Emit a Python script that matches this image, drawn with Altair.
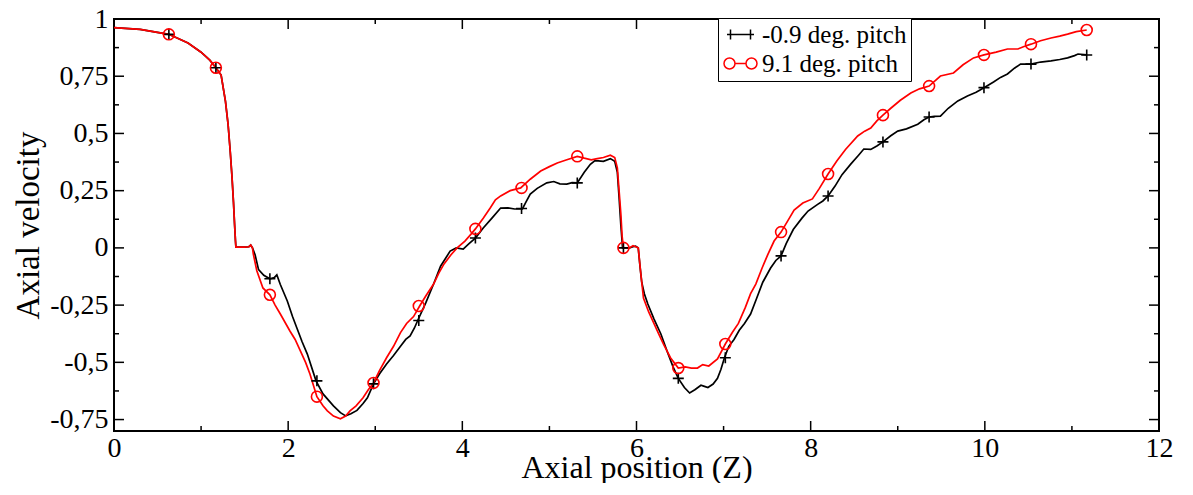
import altair as alt
import pandas as pd

# ---------------- data ----------------
series_names = ["-0.9 deg. pitch", "9.1 deg. pitch"]

# common part of both curves (identical up to x ~ 1.6)
prefix_x = [0, 0.3, 0.63, 0.85, 1.0, 1.1, 1.17, 1.23, 1.28, 1.31, 1.335, 1.355, 1.372,
            1.385, 1.395, 1.40, 1.50, 1.55, 1.57, 1.59]
prefix_y = [0.962, 0.955, 0.933, 0.895, 0.855, 0.82, 0.787, 0.755, 0.64, 0.54, 0.42, 0.31,
            0.2, 0.1, 0.03, 0.003, 0.003, 0.005, 0.012, 0.0]

black_x = [1.62, 1.66, 1.72, 1.79, 1.84, 1.87, 1.91, 1.99, 2.05, 2.10, 2.16, 2.22, 2.32, 2.40,
           2.52, 2.60, 2.66, 2.72, 2.79, 2.86, 2.91, 2.98, 3.05, 3.13, 3.21, 3.29, 3.35, 3.40,
           3.45, 3.49, 3.58, 3.67, 3.75, 3.86, 3.93, 4.01, 4.08, 4.15, 4.24, 4.34, 4.44, 4.52,
           4.60, 4.69, 4.73, 4.78, 4.86, 4.97, 5.05, 5.12, 5.20, 5.26, 5.32, 5.40, 5.47, 5.52,
           5.56, 5.62, 5.70, 5.75, 5.78, 5.80, 5.82, 5.84, 5.85, 5.92, 5.96, 5.99, 6.02, 6.04,
           6.06, 6.09, 6.13, 6.20, 6.28, 6.36, 6.42, 6.48, 6.55, 6.61, 6.67, 6.74, 6.78, 6.82,
           6.88, 6.93, 6.97, 7.01, 7.06, 7.12, 7.18, 7.24, 7.31, 7.38, 7.45, 7.54, 7.60, 7.66,
           7.72, 7.80, 7.90, 7.97, 8.08, 8.14, 8.20, 8.28, 8.36, 8.46, 8.55, 8.61, 8.69, 8.76,
           8.83, 8.92, 9.00, 9.10, 9.23, 9.30, 9.36, 9.42, 9.49, 9.58, 9.69, 9.80, 9.90, 9.99,
           10.10, 10.18, 10.26, 10.34, 10.41, 10.53, 10.64, 10.76, 10.86, 10.95, 11.03, 11.07,
           11.17]
black_y = [-0.03, -0.095, -0.12, -0.135, -0.13, -0.118, -0.16, -0.232, -0.30, -0.35, -0.41,
           -0.464, -0.581, -0.638, -0.69, -0.72, -0.734, -0.725, -0.71, -0.68, -0.655, -0.594,
           -0.55, -0.507, -0.47, -0.43, -0.40, -0.385, -0.35, -0.315, -0.24, -0.158, -0.08,
           -0.014, 0.0, -0.005, 0.02, 0.043, 0.087, 0.13, 0.174, 0.175, 0.17, 0.17, 0.2, 0.235,
           0.26, 0.284, 0.29, 0.28, 0.279, 0.285, 0.284, 0.33, 0.365, 0.38, 0.38, 0.378, 0.39,
           0.378, 0.33, 0.22, 0.1, 0.0, 0.0, 0.0, 0.005, 0.008, 0.0, -0.08, -0.15, -0.2, -0.245,
           -0.31, -0.376, -0.46, -0.52, -0.57, -0.61, -0.634, -0.62, -0.60, -0.605, -0.61,
           -0.595, -0.57, -0.53, -0.48, -0.43, -0.40, -0.36, -0.33, -0.289, -0.22, -0.15,
           -0.088, -0.055, -0.035, 0.02, 0.08, 0.13, 0.161, 0.19, 0.205, 0.227, 0.27, 0.32,
           0.366, 0.405, 0.432, 0.43, 0.445, 0.463, 0.49, 0.51, 0.52, 0.54, 0.56, 0.572, 0.575,
           0.576, 0.61, 0.642, 0.664, 0.68, 0.70, 0.725, 0.745, 0.76, 0.785, 0.803, 0.803,
           0.812, 0.817, 0.823, 0.83, 0.84, 0.847, 0.843]

red_x = [1.60, 1.64, 1.71, 1.79, 1.85, 1.91, 2.02, 2.08, 2.14, 2.20, 2.25, 2.33, 2.40, 2.45,
         2.52, 2.60, 2.66, 2.71, 2.78, 2.86, 2.92, 2.98, 3.05, 3.13, 3.21, 3.29, 3.36, 3.44,
         3.51, 3.58, 3.67, 3.73, 3.79, 3.87, 3.94, 4.03, 4.10, 4.15, 4.24, 4.32, 4.38, 4.44,
         4.55, 4.67, 4.78, 4.90, 5.00, 5.09, 5.20, 5.32, 5.40, 5.48, 5.55, 5.62, 5.70, 5.75,
         5.78, 5.80, 5.82, 5.835, 5.85, 5.92, 5.96, 5.99, 6.02, 6.05, 6.08, 6.14, 6.20, 6.26,
         6.31, 6.39, 6.48, 6.56, 6.63, 6.70, 6.76, 6.83, 6.93, 7.02, 7.10, 7.17, 7.25, 7.31,
         7.37, 7.44, 7.51, 7.58, 7.66, 7.74, 7.81, 7.91, 8.02, 8.10, 8.20, 8.30, 8.40, 8.54,
         8.62, 8.69, 8.76, 8.83, 8.92, 9.03, 9.15, 9.25, 9.36, 9.49, 9.64, 9.75, 9.87, 9.99,
         10.13, 10.26, 10.38, 10.45, 10.53, 10.64, 10.76, 10.86, 10.95, 11.05, 11.17]
red_y = [-0.027, -0.10, -0.175, -0.205, -0.25, -0.289, -0.363, -0.40, -0.45, -0.50, -0.551,
         -0.65, -0.69, -0.712, -0.735, -0.747, -0.735, -0.712, -0.69, -0.655, -0.62, -0.59,
         -0.535, -0.48, -0.43, -0.37, -0.33, -0.30, -0.254, -0.21, -0.158, -0.11, -0.07, -0.03,
         0.0, 0.03, 0.06, 0.083, 0.13, 0.174, 0.21, 0.227, 0.25, 0.262, 0.30, 0.336, 0.355,
         0.371, 0.385, 0.40, 0.392, 0.385, 0.39, 0.395, 0.405, 0.395, 0.35, 0.25, 0.15, 0.05,
         0.0, 0.0, 0.01, 0.005, 0.0, -0.114, -0.219, -0.28, -0.33, -0.38, -0.42, -0.48, -0.525,
         -0.52, -0.525, -0.525, -0.51, -0.516, -0.485, -0.42, -0.37, -0.33, -0.26, -0.20,
         -0.158, -0.09, -0.027, 0.03, 0.069, 0.12, 0.165, 0.196, 0.214, 0.26, 0.323, 0.38,
         0.43, 0.489, 0.51, 0.524, 0.555, 0.58, 0.61, 0.645, 0.677, 0.695, 0.707, 0.751, 0.764,
         0.80, 0.83, 0.843, 0.855, 0.869, 0.869, 0.88, 0.89, 0.905, 0.917, 0.925, 0.934, 0.945,
         0.952]

marker_x = [0.63, 1.17, 1.79, 2.33, 2.98, 3.50, 4.15, 4.68, 5.32, 5.85, 6.48, 7.02, 7.66,
            8.20, 8.83, 9.36, 9.99, 10.53, 11.17]
marker_black = [0.933, 0.787, -0.135, -0.581, -0.594, -0.317, 0.043, 0.172, 0.284, 0.0,
                -0.57, -0.48, -0.035, 0.227, 0.463, 0.572, 0.70, 0.803, 0.843]
marker_red = [0.933, 0.787, -0.205, -0.65, -0.59, -0.254, 0.083, 0.262, 0.40, 0.0, -0.525,
              -0.42, 0.069, 0.323, 0.58, 0.707, 0.843, 0.89, 0.952]

x_major = [0, 2, 4, 6, 8, 10, 12]
x_minor = [1, 3, 5, 7, 9, 11]
y_major = [-0.75, -0.5, -0.25, 0, 0.25, 0.5, 0.75, 1]
y_minor = [-0.625, -0.375, -0.125, 0.125, 0.375, 0.625, 0.875]

# ---------------- tables ----------------
black_df = pd.DataFrame({"x": prefix_x + black_x, "y": prefix_y + black_y})
red_df = pd.DataFrame({"x": prefix_x + red_x, "y": prefix_y + red_y})
mk_black_df = pd.DataFrame({"x": marker_x, "y": marker_black})
mk_red_df = pd.DataFrame({"x": marker_x, "y": marker_red})
legend_df = pd.DataFrame({"series": series_names})

W, H = 1045, 412
FONT = "Liberation Serif"

x_scale = alt.Scale(domain=[0, 12], nice=False, zero=False)
y_scale = alt.Scale(domain=[-0.8, 1], nice=False, zero=False)
x_axis = alt.Axis(values=x_major, format="d", ticks=False, domain=False, grid=False,
                  labelFlush=False, labelOverlap=False,
                  labelFontSize=28, labelPadding=3, title="Axial position (Z)",
                  titleFontSize=32, titleY=46, titleBaseline="alphabetic")
y_axis = alt.Axis(values=y_major, labelExpr="replace(toString(datum.value), '.', ',')",
                  labelFlush=False, labelOverlap=False,
                  ticks=False, domain=False, grid=False, labelFontSize=28, labelPadding=6,
                  title="Axial velocity", titleFontSize=33, titlePadding=4)


def X(field="x"):
    return alt.X(f"{field}:Q", scale=x_scale, axis=x_axis)


def Y(field="y"):
    return alt.Y(f"{field}:Q", scale=y_scale, axis=y_axis)


line_black = alt.Chart(black_df).mark_line(color="black", strokeWidth=1.7).encode(x=X(), y=Y())
line_red = alt.Chart(red_df).mark_line(color="#ff0000", strokeWidth=1.7).encode(x=X(), y=Y())

pts_black = alt.Chart(mk_black_df).mark_point(
    shape="M-1,0H1M0,-1V1", size=121, filled=False, color="black", strokeWidth=1.6, opacity=1
).encode(x=X(), y=Y())
pts_red = alt.Chart(mk_red_df).mark_point(
    shape="circle", size=120, filled=False, color="#ff0000", strokeWidth=1.6, opacity=1
).encode(x=X(), y=Y())

path_cross = "M-1.35,0H1.35M-1,-0.5V0.5M1,-0.5V0.5"
path_circle = ("M-0.55,0H0.55M-0.55,0A0.55,0.55,0,1,1,-1.65,0A0.55,0.55,0,1,1,-0.55,0"
               "M1.65,0A0.55,0.55,0,1,1,0.55,0A0.55,0.55,0,1,1,1.65,0")

legend = alt.Legend(title=None, orient="none", legendX=604, legendY=-1, strokeColor="black",
                    fillColor="white", padding=4, labelFont=FONT, labelFontSize=25,
                    labelColor="black", symbolSize=400, symbolStrokeWidth=1.5,
                    symbolOpacity=1, symbolOffset=6, labelOffset=9, rowPadding=3)
legend_layer = alt.Chart(legend_df).transform_filter("false").mark_point(
    filled=False, size=400, strokeWidth=1.5, opacity=1
).encode(
    color=alt.Color("series:N", scale=alt.Scale(domain=series_names, range=["black", "#ff0000"]),
                    legend=legend),
    shape=alt.Shape("series:N", scale=alt.Scale(domain=series_names, range=[path_cross, path_circle]),
                    legend=legend),
)

xmaj_df = pd.DataFrame({"v": x_major})
xmin_df = pd.DataFrame({"v": x_minor})
ymaj_df = pd.DataFrame({"v": y_major})
ymin_df = pd.DataFrame({"v": y_minor})

tick_layers = []
for df, ln in [(xmaj_df, 10), (xmin_df, 5)]:
    tick_layers.append(alt.Chart(df).mark_rule(color="black", strokeWidth=1.5).encode(
        x=X("v"), y=alt.value(H), y2=alt.value(H - ln)))
    tick_layers.append(alt.Chart(df).mark_rule(color="black", strokeWidth=1.5).encode(
        x=X("v"), y=alt.value(0), y2=alt.value(ln)))
for df, ln in [(ymaj_df, 10), (ymin_df, 5)]:
    tick_layers.append(alt.Chart(df).mark_rule(color="black", strokeWidth=1.5).encode(
        y=Y("v"), x=alt.value(0), x2=alt.value(ln)))
    tick_layers.append(alt.Chart(df).mark_rule(color="black", strokeWidth=1.5).encode(
        y=Y("v"), x=alt.value(W), x2=alt.value(W - ln)))

chart = alt.layer(
    *tick_layers, line_black, line_red, pts_black, pts_red, legend_layer
).properties(
    width=W, height=H,
    autosize=alt.AutoSizeParams(type="none"),
    padding={"left": 106, "top": 11, "right": 20, "bottom": 52},
).configure_view(
    stroke="black", strokeWidth=2
).configure_axis(
    labelFont=FONT, titleFont=FONT, labelColor="black", titleColor="black",
    titleFontWeight="normal"
).configure_legend(
    labelFont=FONT
)

chart.save("out.html", embed_options={"renderer": "svg", "actions": False})
